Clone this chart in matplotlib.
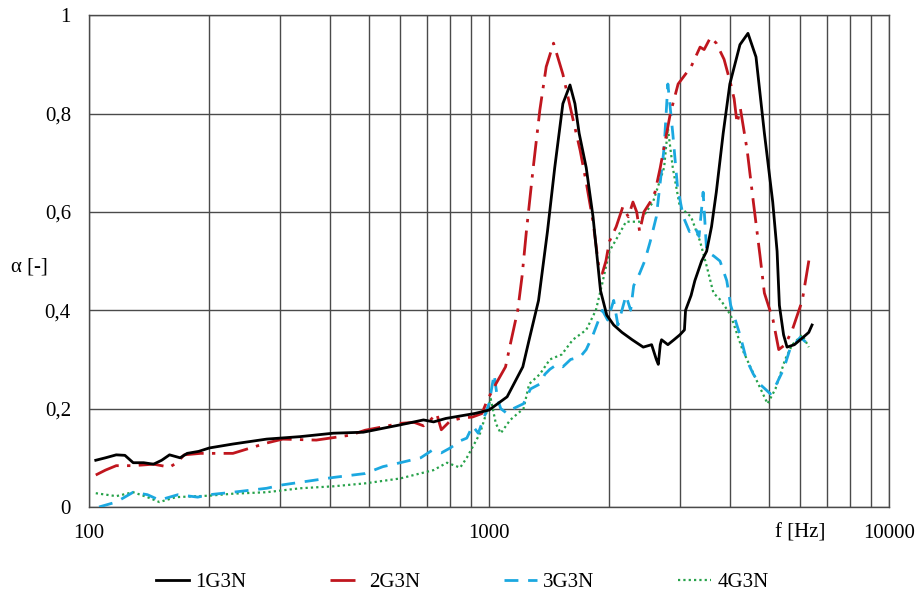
import matplotlib

matplotlib.use('Agg')

import numpy as np
import matplotlib.pyplot as plt
from matplotlib.ticker import FixedLocator, NullFormatter

# 1G3N
f_1g3n = [104, 110, 117, 123, 129, 137, 145, 152, 159, 169, 176, 188, 200, 229, 278, 337, 408, 485,
          543, 600, 686, 727, 780, 847, 920, 1000, 1110, 1215, 1260, 1330, 1400, 1460, 1530, 1594,
          1640, 1680, 1750, 1820, 1900, 1970, 2050, 2150, 2280, 2430, 2550, 2620, 2650, 2680, 2700,
          2800, 2900, 3000, 3080, 3100, 3200, 3270, 3400, 3500, 3600, 3700, 3850, 4000, 4240, 4440,
          4650, 4880, 5120, 5250, 5320, 5450, 5560, 5800, 6100, 6300, 6420]
a_1g3n = [0.095, 0.100, 0.106, 0.105, 0.090, 0.090, 0.087, 0.095, 0.106, 0.100, 0.109, 0.113, 0.120,
          0.128, 0.138, 0.143, 0.150, 0.152, 0.160, 0.167, 0.177, 0.173, 0.180, 0.185, 0.190, 0.197,
          0.224, 0.285, 0.340, 0.420, 0.560, 0.690, 0.820, 0.858, 0.820, 0.760, 0.690, 0.590, 0.440,
          0.390, 0.370, 0.355, 0.340, 0.325, 0.330, 0.300, 0.290, 0.330, 0.340, 0.330, 0.340, 0.350,
          0.360, 0.400, 0.430, 0.460, 0.500, 0.520, 0.570, 0.640, 0.760, 0.860, 0.940, 0.963, 0.915,
          0.760, 0.620, 0.520, 0.410, 0.350, 0.325, 0.330, 0.345, 0.355, 0.370]

# 2G3N
f_2g3n = [104, 110, 117, 129, 145, 159, 166, 173, 190, 229, 278, 305, 370, 450, 490, 543, 600, 650,
          686, 710, 740, 760, 800, 847, 910, 960, 990, 1040, 1100, 1130, 1180, 1210, 1240, 1290,
          1340, 1390, 1450, 1530, 1620, 1690, 1750, 1820, 1880, 1920, 1960, 2000, 2080, 2160, 2230,
          2290, 2340, 2380, 2440, 2530, 2600, 2680, 2840, 2970, 3200, 3370, 3450, 3580, 3700, 3870,
          4020, 4100, 4170, 4250, 4420, 4580, 4760, 4880, 5130, 5300, 5500, 5730, 6070, 6330]
a_2g3n = [0.065, 0.075, 0.084, 0.084, 0.087, 0.081, 0.090, 0.106, 0.109, 0.109, 0.130, 0.138, 0.136,
          0.146, 0.156, 0.163, 0.170, 0.172, 0.165, 0.175, 0.190, 0.157, 0.175, 0.180, 0.183, 0.190,
          0.217, 0.250, 0.285, 0.330, 0.400, 0.470, 0.560, 0.690, 0.807, 0.895, 0.943, 0.880, 0.790,
          0.725, 0.660, 0.580, 0.490, 0.475, 0.500, 0.540, 0.570, 0.610, 0.590, 0.620, 0.600, 0.560,
          0.600, 0.620, 0.640, 0.690, 0.800, 0.860, 0.895, 0.935, 0.930, 0.955, 0.943, 0.910, 0.860,
          0.830, 0.780, 0.810, 0.725, 0.620, 0.510, 0.435, 0.380, 0.320, 0.330, 0.360, 0.420, 0.510]

# 3G3N
f_3g3n = [106, 117, 129, 140, 150, 167, 187, 200, 229, 278, 305, 370, 408, 490, 543, 600, 675, 720,
          760, 800, 850, 880, 910, 940, 970, 1000, 1030, 1050, 1070, 1110, 1150, 1220, 1270, 1340,
          1380, 1420, 1480, 1530, 1600, 1690, 1750, 1820, 1920, 1980, 2050, 2100, 2200, 2260, 2300,
          2380, 2450, 2530, 2620, 2740, 2800, 2880, 2960, 3060, 3170, 3270, 3350, 3430, 3500, 3650,
          3780, 3930, 4020, 4240, 4400, 4580, 4750, 4900, 5050, 5230, 5450, 5650, 6000, 6300]
a_3g3n = [0.000, 0.010, 0.030, 0.025, 0.014, 0.025, 0.020, 0.025, 0.030, 0.038, 0.045, 0.055, 0.060,
          0.068, 0.082, 0.090, 0.100, 0.115, 0.110, 0.120, 0.135, 0.140, 0.165, 0.150, 0.180, 0.210,
          0.270, 0.220, 0.200, 0.190, 0.200, 0.210, 0.240, 0.250, 0.270, 0.280, 0.290, 0.285, 0.300,
          0.305, 0.320, 0.350, 0.400, 0.380, 0.420, 0.370, 0.430, 0.400, 0.450, 0.475, 0.500, 0.540,
          0.590, 0.730, 0.860, 0.760, 0.650, 0.590, 0.560, 0.570, 0.550, 0.640, 0.520, 0.510, 0.500,
          0.460, 0.410, 0.350, 0.300, 0.270, 0.250, 0.240, 0.230, 0.250, 0.280, 0.320, 0.345, 0.330]

# 4G3N
f_4g3n = [104, 117, 129, 140, 150, 165, 200, 229, 278, 337, 408, 490, 600, 727, 785, 847, 880, 950,
          1010, 1040, 1070, 1130, 1220, 1260, 1340, 1420, 1520, 1620, 1750, 1850, 1920, 2000, 2100,
          2200, 2380, 2570, 2740, 2800, 2880, 3000, 3200, 3370, 3500, 3640, 3800, 4020, 4300, 4650,
          4970, 5200, 5500, 5730, 6070, 6300]
a_4g3n = [0.028, 0.022, 0.030, 0.020, 0.010, 0.020, 0.023, 0.027, 0.030, 0.038, 0.042, 0.048, 0.058,
          0.075, 0.090, 0.080, 0.100, 0.150, 0.220, 0.170, 0.150, 0.177, 0.200, 0.250, 0.270, 0.300,
          0.310, 0.340, 0.360, 0.400, 0.455, 0.520, 0.550, 0.580, 0.580, 0.620, 0.690, 0.770, 0.690,
          0.610, 0.590, 0.540, 0.490, 0.435, 0.420, 0.390, 0.320, 0.260, 0.210, 0.240, 0.300, 0.330,
          0.350, 0.325]

y_ticks = [0, 0.2, 0.4, 0.6, 0.8, 1.0]
y_labels = ['0', '0,2', '0,4', '0,6', '0,8', '1']

plt.rcParams['font.family'] = 'Liberation Serif'
plt.rcParams['font.size'] = 15

fig = plt.figure(figsize=(9.17, 5.94), dpi=100)
ax = fig.add_axes([0.097, 0.1465, 0.8725, 0.828])

grid_col = '#4a4a4a'
ax.plot(f_1g3n, a_1g3n, color='black', lw=2.0, label='1G3N', zorder=5)
ax.plot(f_2g3n, a_2g3n, color='#c0161e', lw=2.0, dashes=(9, 3, 1.2, 3), label='2G3N', zorder=4)
ax.plot(f_3g3n, a_3g3n, color='#1ba8e0', lw=2.0, dashes=(5, 3.5), label='3G3N', zorder=3)
ax.plot(f_4g3n, a_4g3n, color='#27a24a', lw=1.6, dashes=(1, 1.4), label='4G3N', zorder=2)

ax.set_xscale('log')
ax.set_xlim(100, 10000)
ax.set_ylim(0, 1)

# "f [Hz]" sits in the 6000 Hz label slot
ax.xaxis.set_major_locator(FixedLocator([100, 1000, 6000, 10000]))
ax.set_xticklabels(['100', '1000', 'f [Hz]', '10000'])
ax.xaxis.set_minor_locator(FixedLocator([m * d for d in (100, 1000) for m in range(2, 10)]))
ax.xaxis.set_minor_formatter(NullFormatter())
ax.set_yticks(y_ticks)
ax.set_yticklabels(y_labels)
ax.tick_params(which='both', length=0)
ax.tick_params(axis='x', pad=12)
ax.tick_params(axis='y', pad=13)

ax.grid(True, which='both', axis='x', color=grid_col, lw=1.0)
ax.grid(True, which='major', axis='y', color=grid_col, lw=1.0)
for sp in ax.spines.values():
    sp.set_color(grid_col)
    sp.set_linewidth(1.0)

fig.text(11 / 917, 1 - 267 / 594, 'α [-]', ha='left', va='center')

ax.legend(loc='center', bbox_to_anchor=(0.504, 0.02), bbox_transform=fig.transFigure, ncol=4,
          frameon=False, handlelength=1.6, handletextpad=0.3, columnspacing=4.0)

plt.savefig('out.png', dpi=100)
